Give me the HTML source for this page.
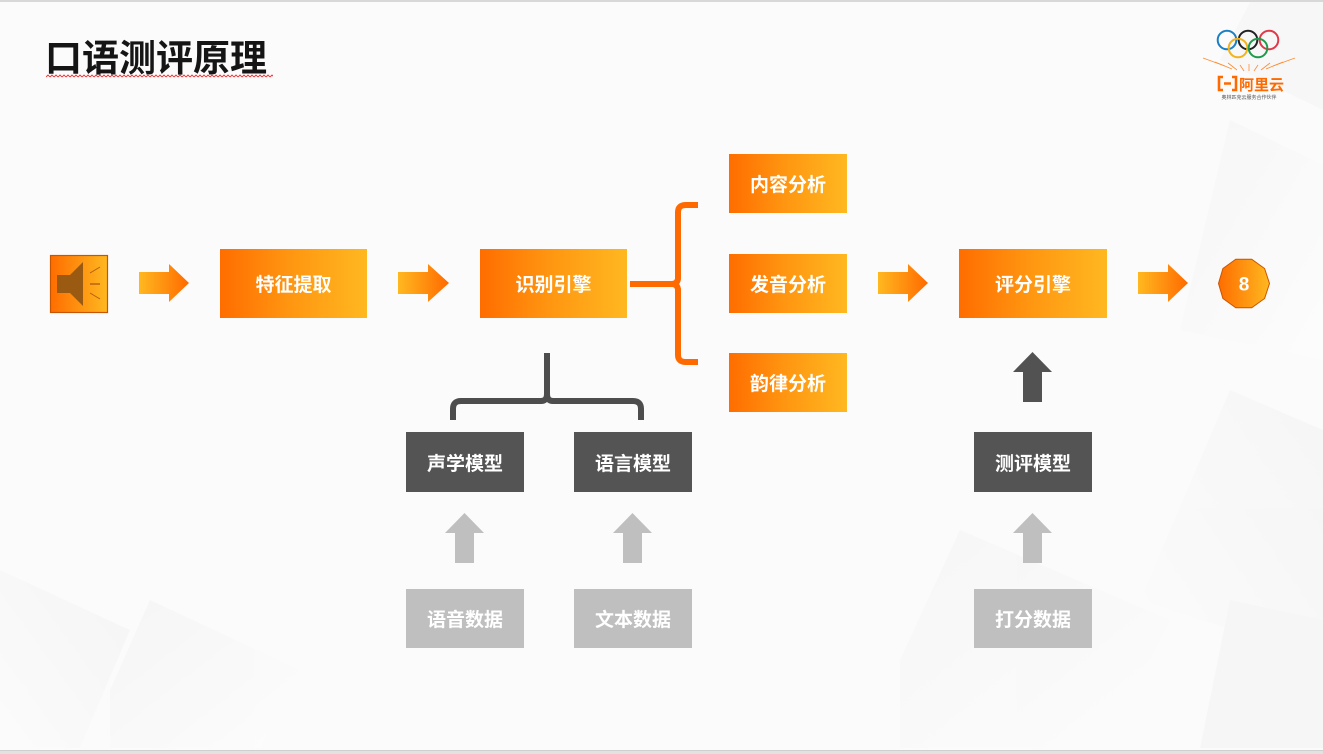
<!DOCTYPE html>
<html><head><meta charset="utf-8">
<style>
html,body{margin:0;padding:0;width:1323px;height:754px;overflow:hidden;}
body{position:relative;background:#fbfbfb;font-family:"Liberation Sans","Noto Sans CJK SC",sans-serif;}
.box{position:absolute;display:flex;align-items:center;justify-content:center;color:#fff;font-weight:bold;font-size:19px;font-family:"Liberation Sans","Noto Sans CJK SC",sans-serif;}
.org{background:linear-gradient(90deg,#ff6d00 0%,#ff9410 45%,#ffb820 100%);}
.dk{background:#545454;}
.lt{background:#bfbfbf;}
svg{position:absolute;left:0;top:0;display:block;}
.title{position:absolute;left:45px;top:34px;font-size:37px;font-weight:bold;color:#151515;font-family:"Liberation Sans","Noto Sans CJK SC",sans-serif;line-height:50px;white-space:nowrap;}
</style></head>
<body>
<svg width="1323" height="754" viewBox="0 0 1323 754">
<defs>
<linearGradient id="ga" x1="0" y1="0" x2="1" y2="0">
<stop offset="0" stop-color="#ffb820"/><stop offset="1" stop-color="#ff6a00"/>
</linearGradient>
<linearGradient id="gb" x1="0" y1="0" x2="1" y2="0">
<stop offset="0" stop-color="#ff6d00"/><stop offset="1" stop-color="#ffb820"/>
</linearGradient>
<linearGradient id="bg1" x1="0" y1="0" x2="1" y2="1">
<stop offset="0" stop-color="#f3f3f3"/><stop offset="1" stop-color="#fdfdfd"/>
</linearGradient>
<linearGradient id="bg2" x1="1" y1="0" x2="0" y2="1">
<stop offset="0" stop-color="#f2f2f2"/><stop offset="1" stop-color="#fcfcfc"/>
</linearGradient>
<pattern id="sq" x="46" y="74" width="4" height="4" patternUnits="userSpaceOnUse">
<path d="M0 3 L2 1 L4 3" fill="none" stroke="#e83030" stroke-width="0.9"/>
</pattern>
</defs>
<!-- background soft shapes (kept inside frame) -->
<g opacity="0.6">
<polygon points="1230,120 1323,165 1323,360 1180,330" fill="url(#bg1)"/>
<polygon points="1230,390 1323,430 1323,660 1140,600" fill="url(#bg2)"/>
<polygon points="960,530 1170,620 1110,748 900,748 900,660" fill="url(#bg1)"/>
<polygon points="1230,600 1323,620 1323,748 1200,748" fill="#f4f4f4"/>
<polygon points="0,570 130,630 80,748 0,748" fill="url(#bg2)"/>
<polygon points="150,600 300,670 260,748 110,748 110,690" fill="url(#bg1)"/>
<polygon points="1250,2 1323,2 1323,110 1220,60" fill="#f5f5f5"/>
</g>
<rect x="0" y="0" width="1323" height="2" fill="#d8d8d8"/>
<rect x="0" y="750" width="1323" height="4" fill="#e2e2e2"/>
<rect x="0" y="750" width="1323" height="1" fill="#cfcfcf"/>

<!-- title squiggle -->
<rect x="46" y="74" width="227" height="4" fill="url(#sq)"/>

<!-- speaker icon -->
<rect x="50.5" y="255.5" width="57" height="57" fill="url(#gb)" stroke="#c85500" stroke-width="1.2"/>
<rect x="57" y="275" width="15" height="18" fill="#9a5a12"/>
<polygon points="70,275 83,262 83,306 70,293" fill="#9a5a12"/>
<line x1="90" y1="273" x2="100" y2="267" stroke="#b06010" stroke-width="1"/>
<line x1="90" y1="284" x2="100" y2="284" stroke="#b06010" stroke-width="1.4"/>
<line x1="90" y1="293" x2="100" y2="299" stroke="#b06010" stroke-width="1"/>

<!-- orange arrows -->
<g fill="url(#ga)">
<polygon points="139,272 169,272 169,264 189,283 169,302 169,294 139,294"/>
<polygon points="398,272 428,272 428,264 449,283 428,302 428,294 398,294"/>
<polygon points="878,272 908,272 908,264 928,283 908,302 908,294 878,294"/>
<polygon points="1138,272 1168,272 1168,264 1188,283 1168,302 1168,294 1138,294"/>
</g>

<!-- orange bracket -->
<path d="M630 284 L672 284 Q677 284 678 279 L678 212 Q678 205 686 205 L698 205" fill="none" stroke="#ff6a00" stroke-width="6" stroke-linejoin="round"/>
<path d="M672 284 Q677 284 678 289 L678 355 Q678 362 686 362 L698 362" fill="none" stroke="#ff6a00" stroke-width="6" stroke-linejoin="round"/>

<!-- dark bracket -->
<path d="M547 353 L547 394 Q547 401 541 401 L461 401 Q453 401 453 409 L453 420" fill="none" stroke="#4d4d4d" stroke-width="6"/>
<path d="M547 394 Q547 401 553 401 L633 401 Q641 401 641 409 L641 420" fill="none" stroke="#4d4d4d" stroke-width="6"/>

<!-- dark up arrow -->
<polygon points="1032.5,352 1052,372 1042,372 1042,402 1023,402 1023,372 1013,372" fill="#525252"/>
<!-- gray up arrows -->
<g fill="#bfbfbf">
<polygon points="464.5,513 484,533 474,533 474,563 455,563 455,533 445,533"/>
<polygon points="632.5,513 652,533 642,533 642,563 623,563 623,533 613,533"/>
<polygon points="1032.5,513 1052,533 1042,533 1042,563 1023,563 1023,533 1013,533"/>
</g>

<!-- decagon -->
<polygon points="1269.5,283.5 1264.6,298.5 1251.7,307.8 1235.8,307.8 1222.9,298.5 1218.5,283.5 1222.9,268.5 1235.8,259.2 1251.7,259.2 1264.6,268.5" fill="url(#gb)" stroke="#c85500" stroke-width="1"/>
<text x="1244" y="290.5" text-anchor="middle" font-family="Liberation Sans, sans-serif" font-weight="bold" font-size="19" fill="#fff">8</text>

<!-- logo -->
<g fill="none" stroke-width="2">
<circle cx="1227" cy="40" r="9.3" stroke="#1b7fc4"/>
<circle cx="1248" cy="40" r="9.3" stroke="#222"/>
<circle cx="1269" cy="40" r="9.3" stroke="#e03a4a"/>
<circle cx="1238" cy="48" r="9.3" stroke="#f2b21b"/>
<circle cx="1258" cy="48" r="9.3" stroke="#1f9a4c"/>
</g>
<g stroke="#ff8a30" stroke-width="0.8">
<line x1="1203" y1="58" x2="1225" y2="66"/>
<line x1="1215" y1="62" x2="1232" y2="69"/>
<line x1="1228" y1="63" x2="1237" y2="70"/>
<line x1="1240" y1="65" x2="1244" y2="71"/>
<line x1="1249" y1="64" x2="1249" y2="71"/>
<line x1="1258" y1="65" x2="1254" y2="71"/>
<line x1="1270" y1="63" x2="1261" y2="70"/>
<line x1="1283" y1="62" x2="1266" y2="69"/>
<line x1="1295" y1="58" x2="1273" y2="66"/>
</g>
<path d="M1223 77 L1219 77 L1219 90 L1223 90 M1232 77 L1236 77 L1236 90 L1232 90 M1224 83.5 L1231 83.5" fill="none" stroke="#ff6a00" stroke-width="2.6"/>
<text x="1239" y="90" font-family="Liberation Sans, Noto Sans CJK SC, sans-serif" font-weight="bold" font-size="15" fill="#ff6a00">阿里云</text>
<text x="1249" y="99" text-anchor="middle" font-family="Liberation Sans, Noto Sans CJK SC, sans-serif" font-size="5" fill="#555">奥林匹克云服务合作伙伴</text>
</svg>

<div class="title">口语测评原理</div>

<div class="box org" style="left:220px;top:249px;width:147px;height:69px;">特征提取</div>
<div class="box org" style="left:480px;top:249px;width:147px;height:69px;">识别引擎</div>
<div class="box org" style="left:729px;top:154px;width:118px;height:59px;">内容分析</div>
<div class="box org" style="left:729px;top:254px;width:118px;height:59px;">发音分析</div>
<div class="box org" style="left:729px;top:353px;width:118px;height:59px;">韵律分析</div>
<div class="box org" style="left:959px;top:249px;width:148px;height:69px;">评分引擎</div>

<div class="box dk" style="left:406px;top:432px;width:118px;height:60px;">声学模型</div>
<div class="box dk" style="left:574px;top:432px;width:118px;height:60px;">语言模型</div>
<div class="box dk" style="left:974px;top:432px;width:118px;height:60px;">测评模型</div>

<div class="box lt" style="left:406px;top:589px;width:118px;height:59px;">语音数据</div>
<div class="box lt" style="left:574px;top:589px;width:118px;height:59px;">文本数据</div>
<div class="box lt" style="left:974px;top:589px;width:118px;height:59px;">打分数据</div>
</body></html>
